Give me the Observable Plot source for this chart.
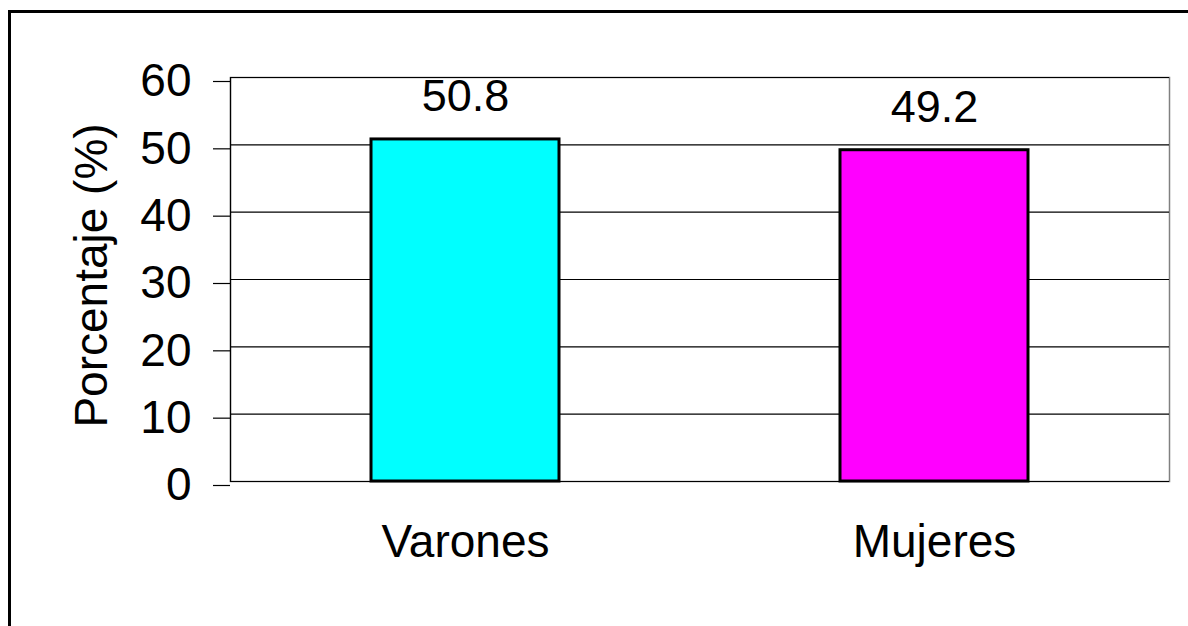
<!DOCTYPE html>
<html>
<head>
<meta charset="utf-8">
<script src="https://cdn.jsdelivr.net/npm/d3@7"></script>
<script src="https://cdn.jsdelivr.net/npm/@observablehq/plot@0.6"></script>
<style>
  html, body { margin: 0; padding: 0; background: #fff; }
  #wrap { position: relative; width: 1188px; height: 626px; overflow: hidden; }
  #box { position: absolute; left: 8px; top: 10px; width: 1200px; height: 700px;
         border-left: 3px solid #000; border-top: 3px solid #000; pointer-events: none; }
</style>
</head>
<body>
<div id="wrap"><div id="box"></div></div>
<script>
// Distribución por sexo (%)
const categories = ["Varones", "Mujeres"];
const values = [50.8, 49.2];
const colors = ["#00FFFF", "#FF00FF"];
const yTicks = [0, 10, 20, 30, 40, 50, 60];
const yLabel = "Porcentaje (%)";

const data = categories.map((c, i) => ({sexo: c, pct: values[i], color: colors[i]}));

const font = "'Liberation Sans', Arial, Helvetica, sans-serif";

const chart = Plot.plot({
  width: 1188,
  height: 626,
  marginLeft: 230,
  marginRight: 19,
  marginTop: 77,
  marginBottom: 145,
  style: {fontFamily: font, color: "#000", background: "transparent", overflow: "visible"},
  x: {domain: categories, paddingInner: 0.6, paddingOuter: 0.3, label: null},
  y: {domain: [0, 60], label: null},
  marks: [
    Plot.frame({stroke: "#808080", strokeWidth: 1.5}),
    Plot.ruleY(yTicks, {stroke: "#000", strokeWidth: 1.2}),
    Plot.frame({anchor: "left", stroke: "#000", strokeWidth: 1.2}),
    Plot.barY(data, {x: "sexo", y: "pct", fill: "color", stroke: "#000", strokeWidth: 3}),
    Plot.axisY({ticks: yTicks, tickSize: 17, tickPadding: 22, fontSize: 46, stroke: "#000", strokeWidth: 1.2, label: null, dy: 4}),
    Plot.axisX({tickSize: 0, tickPadding: 43, fontSize: 46, label: null}),
    Plot.text(data, {x: "sexo", y: "pct", text: d => d.pct.toFixed(1), lineAnchor: "bottom", dy: -28, fontSize: 45, fill: "#000"}),
    Plot.text([yLabel], {frameAnchor: "left", text: d => d, textAnchor: "middle", rotate: -90, dx: -138, dy: -4, fontSize: 46, fill: "#000"})
  ]
});

document.getElementById("wrap").insertBefore(chart, document.getElementById("box"));
</script>
</body>
</html>
